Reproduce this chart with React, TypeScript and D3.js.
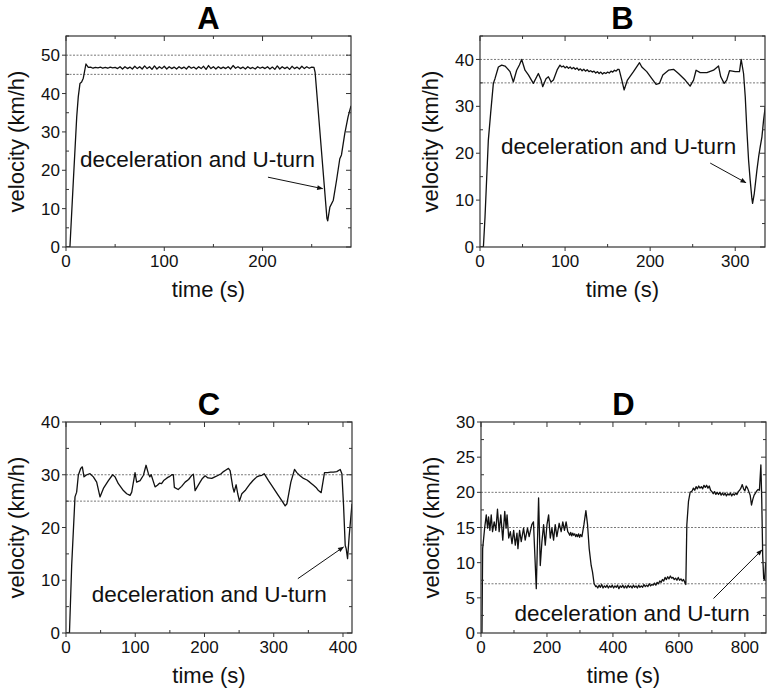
import React from 'react';
import * as d3 from 'd3';

type Pt = [number, number];

// ---------- Panel A ----------
const aStart: Pt[] = [[0, 0], [4, 0], [7.5, 17.4], [10.9, 33.9], [12.5, 39.2], [14.2, 42.6], [15.9, 43], [17.6, 44], [20.3, 47.7], [22.7, 46.8]];
const aFlatT0 = 25;
const aFlatStep = 2.5;
const aFlat: number[] = [
  46.9, 46.6, 46.8, 46.7, 46.9, 46.6, 46.8, 46.6, 46.9, 46.7, 46.8,
  46.5, 47.0, 46.4, 47.0, 46.5, 46.9, 46.4, 47.1, 46.5, 47.0, 46.4, 47.2, 46.5, 47.0, 46.3, 47.2, 46.4, 47.0, 46.5, 47.1,
  46.4, 47.0, 46.5, 46.9, 46.4, 47.0, 46.5, 46.9, 46.4, 47.1, 46.6, 46.9, 46.4, 47.0, 46.5, 47.1, 46.3, 47.3, 46.5, 47.0,
  46.4, 47.0, 46.5, 46.9, 46.5, 47.0, 46.4, 47.3, 46.6, 47.0, 46.5, 46.9, 46.4, 47.0, 46.5, 46.8, 46.4, 47.0, 46.6, 46.9,
  46.5, 47.0, 46.4, 46.9, 46.3, 47.2, 46.4, 47.0, 46.5, 46.9, 46.3, 47.1, 46.5, 46.9, 46.4, 47.1, 46.5, 47.0, 46.6, 46.9,
];
const aEnd: Pt[] = [[252.3, 46.8], [253.5, 45.5], [265.5, 7.5], [266.3, 6.8], [268.5, 10.4], [272, 12.2], [275.3, 17.4], [278.6, 23], [280.3, 24], [283.7, 29.6], [287, 33.9], [290, 36.8]];

// ---------- Panel B ----------
const bStart: Pt[] = [
  [0, 0], [4, 0], [5.9, 6.4], [9.8, 22.8], [12.5, 28.5], [15.7, 34.9], [17.6, 35.9], [21.6, 38.4], [25.5, 38.8], [29.4, 38.6],
  [32, 38.1], [35.3, 37.4], [39.2, 35.2], [43.1, 37.7], [46.3, 38.8], [49, 40], [52.9, 37.7], [56.9, 36.7], [62.7, 34.9],
  [68.6, 37], [71.8, 35.6], [73.7, 34.2], [77.6, 35.9], [80.4, 36.3], [83.5, 35.2], [86.3, 35.6], [91, 37.9], [94, 38.8],
];
const bNoiseT0 = 96;
const bNoiseStep = 2;
const bNoise: number[] = [
  38.4, 38.6, 38.2, 38.5, 38.1, 38.4, 38.0, 38.3, 37.9, 38.2, 37.7, 38.0, 37.6, 37.9, 37.5, 37.8, 37.4, 37.6,
  37.3, 37.5, 37.1, 37.4, 37.0, 37.3, 36.9, 37.2, 37.0, 37.3, 37.1, 37.5, 37.3, 37.7, 37.5, 37.9,
];
const bEnd: Pt[] = [
  [163.5, 37.9], [166.7, 35.6], [169.4, 33.5], [173.3, 35.6], [180.4, 37.4], [187.5, 39.3], [190.2, 38.4], [196, 37.4],
  [202, 35.9], [207, 34.7], [211, 34.9], [214.9, 36.7], [221.6, 37.7], [227.5, 37.9], [233.3, 37], [241.2, 35.6], [247, 34.3],
  [251, 35.6], [254, 37.7], [258.8, 37.2], [266.7, 37.2], [274.5, 37.7], [280.4, 38.6], [283, 36.3], [287, 34.9], [290, 35.6],
  [293.3, 37.6], [300, 37.4], [305, 37.4], [307, 40], [309.8, 37], [311.8, 32], [313.7, 24.9], [315.7, 18.5], [317.6, 14.2],
  [319.6, 10.3], [320.4, 9.3], [322.4, 11.4], [325.5, 16.4], [327.5, 19.2], [329.4, 21.4], [331.4, 23.5], [333.3, 27], [335.3, 29.9],
];

// ---------- Panel C ----------
const cData: Pt[] = [
  [0, 0], [5, 0], [8.2, 12.8], [13, 25.8], [15.4, 26.7], [17.8, 29.9], [21.2, 31.2], [23.6, 31.5], [26, 29.6], [29.9, 30],
  [34.7, 30.2], [39.5, 29.6], [44.3, 28.6], [49.1, 25.8], [54, 27.4], [61.2, 28.9], [67.4, 30], [70.8, 29.6], [75.6, 28.3],
  [82.9, 27], [87.7, 26.4], [92.5, 26.1], [94.9, 26.7], [99.7, 30.4], [102, 28.6], [107, 28.9], [111.8, 29.9], [115.6, 31.8],
  [119, 30.2], [121, 29.6], [123, 30.0], [128.6, 27.7], [132, 28.0], [135, 28.4], [138, 28.3], [141, 28.9], [144, 29.2],
  [147, 29.5], [150, 29.7], [153, 30.0], [155, 30.0], [156.5, 27.6], [162, 27.2], [167, 27.8], [172, 28.6], [177, 29.1],
  [181.6, 29.9], [184, 30.1], [186.4, 27], [190, 27.8], [193.6, 28.6], [197, 29.3], [200.9, 29.8], [205, 29.4], [210.5, 29.3],
  [215, 29.6], [220, 29.9], [224, 30.2], [227.4, 30.6], [231, 30.9], [234.6, 31.2], [237, 30.8], [240.8, 27.7], [242.8, 26.7],
  [245.7, 28.1], [248, 26.4], [250.5, 25], [253.9, 26.4], [258.7, 27], [262, 27.6], [266, 28.3], [270, 28.9], [275.5, 29.6],
  [279, 29.8], [282.8, 29.9], [286.1, 30.2], [292.4, 28.9], [297, 28], [302, 27], [307, 26], [311.7, 25.1], [316.5, 24.1],
  [319, 24.5], [324.7, 28.6], [330, 31], [333.3, 30.4], [338, 29.8], [343, 29.3], [348, 29], [352, 28.6], [357.4, 28],
  [361, 27.6], [364.6, 27], [368.5, 26.6], [373.3, 30.4], [378, 30.4], [382, 30.5], [386.3, 30.5], [391, 30.6], [396, 31],
  [398.4, 30.2], [400.8, 24.2], [403.2, 16.6], [404.6, 16], [406.6, 14.1], [409, 18.5], [413, 24.5],
];

// ---------- Panel D ----------
const dStart: Pt[] = [
  [0, 0], [3, 0], [5, 12], [11, 14.9], [16, 16.8], [20, 14.9], [23, 16.5], [27, 14.6], [31, 16.8], [35, 14.4], [40, 15.8],
  [45, 14.6], [50, 17.6], [55, 14.4], [60, 16.8], [66, 13.2], [72, 17.3], [76, 14.9], [79, 16.8], [84, 13.5], [89, 14.4],
  [94, 12.7], [99, 14.6], [104, 12.5], [109, 14.2], [112, 12], [117, 14.6], [122, 13], [129, 14.9], [134, 13.2], [141, 14.9],
  [146, 13.7], [154, 15.4], [159, 15.8], [167.6, 6.3], [174.6, 19.2], [179.7, 9.6], [184.7, 13], [189.8, 15.4], [194.8, 12.5],
  [200, 15.4], [205, 16.8], [210, 13.5], [215, 14.9], [220, 13.2], [225, 15.4], [230, 13.7], [237, 15.6], [243, 14.4],
  [248, 15.8], [253, 14.6], [258, 15.8], [263, 14.4], [266, 14.2], [269, 13.9], [272, 14.3], [275, 13.8], [278, 14.2],
  [281, 13.9], [284, 14.1], [287, 13.7], [290, 14.0], [293, 13.7], [296, 14.1], [299, 13.6], [302, 14.0], [306, 13.7],
  [312, 15.4], [318, 17.4], [323, 15.4], [328, 12], [334, 9.6], [338, 8.7], [343, 7], [348, 6.6],
];
const dLowT0 = 350;
const dLowStep = 4;
const dLow: number[] = [
  6.7, 6.4, 6.8, 6.5, 6.9, 6.4, 6.7, 6.5, 6.8, 6.4, 6.7, 6.5, 6.8,
  6.4, 6.7, 6.5, 6.8, 6.3, 6.7, 6.5, 6.8, 6.4, 6.7, 6.4, 6.8, 6.5,
  6.7, 6.4, 6.8, 6.5, 6.7, 6.4, 6.8, 6.5, 6.7, 6.5, 6.9, 6.6, 6.8,
  6.6, 7.0, 6.7, 6.9, 6.8, 7.1, 6.8, 7.2, 7.0, 7.4, 7.2, 7.6, 7.4,
  7.9, 7.6, 8.0, 7.7, 8.1, 7.8, 7.9, 7.6, 7.8, 7.5, 7.9, 7.5, 7.7, 7.4, 7.6, 7.2,
];
const dJump: Pt[] = [[621, 6.9], [624, 15.4], [629, 18.7], [634, 20]];
const dHighT0 = 640;
const dHighStep = 4;
const dHigh: number[] = [
  20.2, 20.6, 20.3, 20.8, 20.5, 20.9, 20.6, 20.8, 20.5, 21.0, 20.7,
  21.0, 20.6, 20.9, 20.3, 20.1, 19.8, 20.1, 19.7, 20.0, 19.7, 20.0,
  19.6, 19.9, 19.6, 19.9, 19.5, 19.8, 19.6, 19.9, 19.5, 19.8, 19.6,
  19.9, 19.7, 20.1, 20.3, 20.6, 21.1, 20.5, 20.2, 20.9, 20.6, 20.1,
  19.6, 18.2, 19.0, 19.6, 19.9, 20.2, 20.4, 20.3,
];
const dEnd: Pt[] = [[848.5, 23.9], [851, 19.2], [854, 11], [857, 7.7], [860, 7.6], [863, 10]];

const regular = (t0: number, step: number, vals: number[]): Pt[] => vals.map((v, i) => [t0 + step * i, v]);

const seriesA: Pt[] = [...aStart, ...regular(aFlatT0, aFlatStep, aFlat), ...aEnd];
const seriesB: Pt[] = [...bStart, ...regular(bNoiseT0, bNoiseStep, bNoise), ...bEnd];
const seriesC: Pt[] = cData;
const seriesD: Pt[] = [...dStart, ...regular(dLowT0, dLowStep, dLow), ...dJump, ...regular(dHighT0, dHighStep, dHigh), ...dEnd];

const titles = ['A', 'B', 'C', 'D'];
const xMaxes = [290, 335, 413, 864];
const yMaxes = [55, 45, 40, 30];
const xMajorSteps = [100, 100, 100, 200];
const xMinorSteps = [50, 50, 50, 100];
const yMajorSteps = [10, 10, 10, 5];
const yMinorSteps = [5, 5, 5, 2.5];
const dashedLevels = [[50, 45], [40, 35], [30, 25], [20, 15, 7]];
// annotation anchors in data units: [textT, textV, fromT, fromV, toT, toV]
const annotations = [
  [14.2, 20.9, 205.5, 18.2, 261.1, 15.2],
  [24.7, 19.8, 270.6, 17.9, 312.6, 13.7],
  [37.1, 5.9, 334.8, 10.3, 400.7, 16.3],
  [101.8, 1.7, 704.8, 4.9, 851.5, 11.8],
];
const annotationText = 'deceleration and U-turn';
const xTitle = 'time (s)';
const yTitle = 'velocity (km/h)';

const allSeries = [seriesA, seriesB, seriesC, seriesD];

const boxes = [
  { x0: 66, x1: 351, y0: 36, y1: 247 },
  { x0: 480, x1: 765, y0: 36, y1: 247 },
  { x0: 66, x1: 352, y0: 422, y1: 633 },
  { x0: 481, x1: 766, y0: 422, y1: 633 },
];

const FONT = '"Liberation Sans", Arial, Helvetica, sans-serif';

function ticks(max: number, step: number) {
  const out: number[] = [];
  for (let v = 0; v <= max + 1e-9; v += step) out.push(+v.toFixed(6));
  return out;
}

function Panel({ i }: { i: number }) {
  const b = boxes[i];
  const x = d3.scaleLinear().domain([0, xMaxes[i]]).range([b.x0, b.x1]);
  const y = d3.scaleLinear().domain([0, yMaxes[i]]).range([b.y1, b.y0]);
  const line = d3.line<Pt>().x((d) => x(d[0])).y((d) => y(d[1]));
  const xMaj = ticks(xMaxes[i], xMajorSteps[i]);
  const xMin = ticks(xMaxes[i], xMinorSteps[i]).filter((v) => !xMaj.includes(v));
  const yMaj = ticks(yMaxes[i], yMajorSteps[i]);
  const yMin = ticks(yMaxes[i], yMinorSteps[i]).filter((v) => !yMaj.includes(v));
  const a = annotations[i];
  const clipId = `clip${i}`;
  const stroke = '#333';
  return (
    <g>
      <defs>
        <clipPath id={clipId}>
          <rect x={b.x0} y={b.y0} width={b.x1 - b.x0} height={b.y1 - b.y0} />
        </clipPath>
      </defs>
      {dashedLevels[i].map((lv) => (
        <line key={lv} x1={b.x0} x2={b.x1} y1={y(lv)} y2={y(lv)} stroke="#555" strokeWidth={0.8} strokeDasharray="2,1.5" />
      ))}
      <path d={line(allSeries[i]) || ''} fill="none" stroke="#111" strokeWidth={1.3} strokeLinejoin="round" clipPath={`url(#${clipId})`} />
      <rect x={b.x0} y={b.y0} width={b.x1 - b.x0} height={b.y1 - b.y0} fill="none" stroke={stroke} strokeWidth={1.2} />
      {xMaj.map((v) => (
        <g key={'xM' + v}>
          <line x1={x(v)} x2={x(v)} y1={b.y1} y2={b.y1 + 4} stroke={stroke} />
          <line x1={x(v)} x2={x(v)} y1={b.y0} y2={b.y0 + 5} stroke={stroke} />
          <text x={x(v)} y={b.y1 + 20} textAnchor="middle" fontSize={17} fontFamily={FONT} fill="#111">{v}</text>
        </g>
      ))}
      {xMin.map((v) => (
        <g key={'xm' + v}>
          <line x1={x(v)} x2={x(v)} y1={b.y1} y2={b.y1 - 3} stroke={stroke} />
          <line x1={x(v)} x2={x(v)} y1={b.y0} y2={b.y0 + 3} stroke={stroke} />
        </g>
      ))}
      {yMaj.map((v) => (
        <g key={'yM' + v}>
          <line x1={b.x0 - 4} x2={b.x0} y1={y(v)} y2={y(v)} stroke={stroke} />
          <line x1={b.x1 - 5} x2={b.x1} y1={y(v)} y2={y(v)} stroke={stroke} />
          <text x={b.x0 - 6} y={y(v)} dy="0.36em" textAnchor="end" fontSize={17} fontFamily={FONT} fill="#111">{v}</text>
        </g>
      ))}
      {yMin.map((v) => (
        <g key={'ym' + v}>
          <line x1={b.x0} x2={b.x0 + 3} y1={y(v)} y2={y(v)} stroke={stroke} />
          <line x1={b.x1 - 3} x2={b.x1} y1={y(v)} y2={y(v)} stroke={stroke} />
        </g>
      ))}
      <text x={(b.x0 + b.x1) / 2} y={b.y0 - 7} textAnchor="middle" fontSize={31} fontWeight="bold" fontFamily={FONT} fill="#000">{titles[i]}</text>
      <text x={(b.x0 + b.x1) / 2} y={b.y1 + 50} textAnchor="middle" fontSize={22} fontFamily={FONT} fill="#111">{xTitle}</text>
      <text transform={`translate(${b.x0 - 42},${(b.y0 + b.y1) / 2}) rotate(-90)`} textAnchor="middle" fontSize={22} fontFamily={FONT} fill="#111">{yTitle}</text>
      <text x={x(a[0])} y={y(a[1])} fontSize={22.5} fontFamily={FONT} fill="#111">{annotationText}</text>
      <line x1={x(a[2])} y1={y(a[3])} x2={x(a[4])} y2={y(a[5])} stroke="#111" strokeWidth={1} markerEnd="url(#arrowHead)" />
    </g>
  );
}

export default function App() {
  return (
    <svg width={771} height={695} style={{ position: 'absolute', left: 0, top: 0, background: '#fff' }}>
      <defs>
        <marker id="arrowHead" viewBox="0 0 10 10" refX="9" refY="5" markerWidth="7" markerHeight="6" orient="auto" markerUnits="userSpaceOnUse">
          <path d="M0,1 L10,5 L0,9 z" fill="#111" />
        </marker>
      </defs>
      <rect x={0} y={0} width={771} height={695} fill="#fff" />
      {[0, 1, 2, 3].map((i) => (
        <Panel key={i} i={i} />
      ))}
    </svg>
  );
}
